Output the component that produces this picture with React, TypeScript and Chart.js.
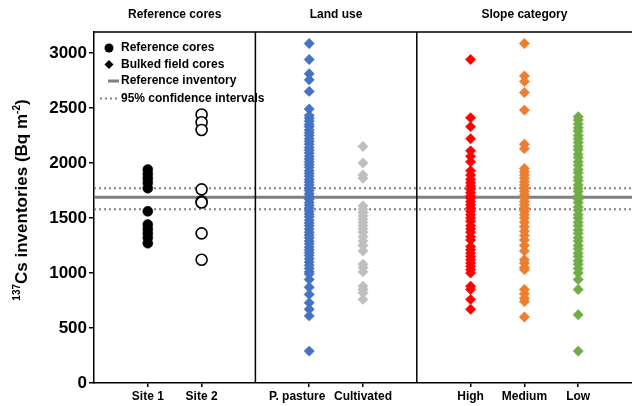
import { useEffect, useRef } from "react";
import { Chart, registerables } from "chart.js";
Chart.register(...registerables);

const FONT = "'Liberation Sans', Arial, sans-serif";

const categories = ["Site 1", "Site 2", "P. pasture", "Cultivated", "High", "Medium", "Low"];
const categoryPositions = [1, 2, 4, 5, 7, 8, 9];
const categoryLabelShift = [0, 0, -12, 0, 0, 0, 0];
const panelTitles = ["Reference cores", "Land use", "Slope category"];
const panelCenters = [1.5, 4.5, 8];
const panelDividers = [3, 6];
const yTicks = [0, 500, 1000, 1500, 2000, 2500, 3000];
const referenceInventory = 1688;
const confidenceIntervals = [1579, 1770];

const site1 = [1940, 1900, 1860, 1820, 1770, 1560, 1440, 1400, 1360, 1320, 1270];
const site2 = [2440, 2370, 2300, 1760, 1650, 1640, 1360, 1120];
const pasture = [
  3085, 2940, 2810, 2755, 2650, 2490, 2430, 2405, 2380, 2350, 2330, 2300, 2275, 2250, 2220,
  2195, 2170, 2140, 2115, 2090, 2060, 2035, 2010, 1985, 1960, 1930, 1905, 1880, 1850, 1825,
  1800, 1775, 1750, 1720, 1695, 1670, 1640, 1615, 1590, 1560, 1535, 1510, 1480, 1455, 1430,
  1400, 1370, 1345, 1320, 1290, 1265, 1235, 1210, 1185, 1160, 1130, 1100, 1070, 1040, 1010,
  990, 940, 870, 805, 730, 670, 610, 290,
];
const cultivated = [
  2150, 2000, 1890, 1860, 1610, 1580, 1550, 1520, 1490, 1460, 1430, 1400, 1370, 1330, 1290,
  1250, 1200, 1080, 1050, 1010, 880, 850, 820, 760,
];
const high = [
  2940, 2410, 2330, 2220, 2110, 2060, 2010, 1930, 1890, 1850, 1820, 1790, 1760, 1730, 1700,
  1680, 1650, 1620, 1590, 1560, 1530, 1500, 1470, 1430, 1400, 1370, 1330, 1300, 1240, 1210,
  1180, 1150, 1120, 1090, 1060, 1030, 1000, 880, 850, 760, 670,
];
const medium = [
  3085, 2790, 2740, 2640, 2480, 2170, 2130, 1950, 1920, 1890, 1860, 1830, 1800, 1770, 1740,
  1710, 1680, 1650, 1620, 1590, 1560, 1530, 1500, 1460, 1420, 1380, 1340, 1300, 1250, 1200,
  1120, 1090, 1050, 1030, 850, 810, 770, 740, 600,
];
const low = [
  2420, 2390, 2355, 2320, 2290, 2250, 2220, 2185, 2150, 2120, 2080, 2050, 2010, 1980, 1940,
  1910, 1870, 1840, 1800, 1770, 1740, 1700, 1670, 1640, 1600, 1570, 1530, 1500, 1460, 1430,
  1390, 1360, 1320, 1290, 1250, 1220, 1180, 1150, 1110, 1080, 1040, 1000, 940, 850, 620, 290,
];

const seriesValues = [site1, site2, pasture, cultivated, high, medium, low];
const seriesColors = ["#000000", "#000000", "#4472C4", "#BFBFBF", "#FF0000", "#ED7D31", "#70AD47"];

const legendLabels = ["Reference cores", "Bulked field cores", "Reference inventory", "95% confidence intervals"];

const decorPlugin = {
  id: "decor",
  beforeDatasetsDraw(chart: any) {
    const { ctx, chartArea: a, scales } = chart;
    const y = scales.y;
    const x = scales.x;
    ctx.save();
    ctx.beginPath();
    ctx.rect(a.left, a.top, a.right - a.left, a.bottom - a.top);
    ctx.clip();
    ctx.strokeStyle = "#808080";
    ctx.lineWidth = 3;
    ctx.beginPath();
    const yr = y.getPixelForValue(referenceInventory);
    ctx.moveTo(a.left, yr);
    ctx.lineTo(a.right, yr);
    ctx.stroke();
    ctx.lineWidth = 2;
    ctx.setLineDash([2, 3]);
    confidenceIntervals.forEach((v) => {
      const yy = y.getPixelForValue(v);
      ctx.beginPath();
      ctx.moveTo(a.left, yy);
      ctx.lineTo(a.right, yy);
      ctx.stroke();
    });
    ctx.restore();
    ctx.save();
    ctx.strokeStyle = "#000000";
    ctx.lineWidth = 1.5;
    panelDividers.forEach((d) => {
      const xx = x.getPixelForValue(d);
      ctx.beginPath();
      ctx.moveTo(xx, a.top);
      ctx.lineTo(xx, a.bottom);
      ctx.stroke();
    });
    ctx.beginPath();
    ctx.moveTo(a.left, a.top);
    ctx.lineTo(a.right, a.top);
    ctx.stroke();
    ctx.restore();
  },
  afterDraw(chart: any) {
    const { ctx, chartArea: a, scales } = chart;
    const x = scales.x;
    ctx.save();
    ctx.fillStyle = "#000000";
    ctx.font = `bold 12px ${FONT}`;
    ctx.textAlign = "center";
    ctx.textBaseline = "middle";
    categories.forEach((c, i) => {
      ctx.fillText(c, x.getPixelForValue(categoryPositions[i]) + categoryLabelShift[i], a.bottom + 14);
    });
    panelTitles.forEach((t, i) => {
      ctx.fillText(t, x.getPixelForValue(panelCenters[i]), 15);
    });
    const lx = a.left + 15;
    const tx = a.left + 27;
    const rows = [48, 64.5, 81, 98.5];
    ctx.textAlign = "left";
    legendLabels.forEach((t, i) => ctx.fillText(t, tx, rows[i]));
    ctx.beginPath();
    ctx.arc(lx, rows[0], 4.5, 0, Math.PI * 2);
    ctx.fill();
    ctx.beginPath();
    ctx.moveTo(lx - 4.5, rows[1]);
    ctx.lineTo(lx, rows[1] - 4.5);
    ctx.lineTo(lx + 4.5, rows[1]);
    ctx.lineTo(lx, rows[1] + 4.5);
    ctx.closePath();
    ctx.fill();
    ctx.strokeStyle = "#808080";
    ctx.lineWidth = 3;
    ctx.beginPath();
    ctx.moveTo(lx - 1, rows[2]);
    ctx.lineTo(lx + 10, rows[2]);
    ctx.stroke();
    ctx.lineWidth = 2;
    ctx.setLineDash([2, 3]);
    ctx.beginPath();
    ctx.moveTo(lx - 9, rows[3]);
    ctx.lineTo(lx + 11, rows[3]);
    ctx.stroke();
    ctx.setLineDash([]);
    ctx.translate(21, 200);
    ctx.rotate(-Math.PI / 2);
    ctx.textAlign = "left";
    ctx.textBaseline = "alphabetic";
    const big = `bold 17px ${FONT}`;
    const small = `bold 10px ${FONT}`;
    const parts: [string, string, number][] = [
      ["137", small, -7],
      ["Cs inventories (Bq m", big, 0],
      ["-2", small, -7],
      [")", big, 0],
    ];
    let total = 0;
    parts.forEach(([s, f]) => {
      ctx.font = f;
      total += ctx.measureText(s).width;
    });
    let cx = -total / 2;
    parts.forEach(([s, f, dy]) => {
      ctx.font = f;
      ctx.fillText(s, cx, 6 + dy);
      cx += ctx.measureText(s).width;
    });
    ctx.restore();
  },
};

export default function App() {
  const ref = useRef<HTMLCanvasElement | null>(null);
  useEffect(() => {
    if (!ref.current) return;
    const datasets = seriesValues.map((vals, i) => {
      const isRef = i < 2;
      return {
        label: categories[i],
        data: vals.map((v) => ({ x: categoryPositions[i], y: v })),
        pointStyle: isRef ? "circle" : "rectRot",
        pointRadius: isRef ? (i === 0 ? 5 : 5.5) : 5.2,
        pointHoverRadius: 5,
        pointBackgroundColor: i === 1 ? "#ffffff" : seriesColors[i],
        pointBorderColor: seriesColors[i],
        pointBorderWidth: i === 1 ? 1.6 : 0.5,
        showLine: false,
      };
    });
    const chart = new Chart(ref.current, {
      type: "scatter",
      data: { datasets: datasets as any },
      options: {
        animation: false,
        responsive: false,
        layout: { autoPadding: false, padding: { top: 32, left: 0, right: 0, bottom: 0 } },
        plugins: { legend: { display: false }, tooltip: { enabled: false } },
        scales: {
          x: {
            type: "linear",
            min: 0,
            max: 10,
            afterBuildTicks: (s: any) => {
              s.ticks = categoryPositions.map((v) => ({ value: v }));
            },
            afterFit: (s: any) => {
              s.height = 23;
              s.paddingLeft = 0;
              s.paddingRight = 0;
            },
            ticks: { display: false },
            grid: { display: true, drawOnChartArea: false, drawTicks: true, tickLength: 4, color: "#000", lineWidth: 1.5 },
            border: { display: true, color: "#000", width: 1.5 },
          },
          y: {
            type: "linear",
            min: 0,
            max: 3190,
            afterBuildTicks: (s: any) => {
              s.ticks = yTicks.map((v) => ({ value: v }));
            },
            afterFit: (s: any) => {
              s.width = 94;
            },
            ticks: {
              padding: 2,
              color: "#000",
              font: { family: FONT, size: 17, weight: "bold" },
              callback: (v: any) => String(v),
            },
            grid: { display: true, drawOnChartArea: false, drawTicks: true, tickLength: 5, color: "#000", lineWidth: 1.5 },
            border: { display: true, color: "#000", width: 1.5 },
          },
        },
      },
      plugins: [decorPlugin],
    });
    return () => chart.destroy();
  }, []);
  return (
    <div style={{ position: "fixed", left: 0, top: 0, width: 632, height: 406, background: "#fff" }}>
      <canvas ref={ref} width={632} height={406} style={{ display: "block" }} />
    </div>
  );
}
